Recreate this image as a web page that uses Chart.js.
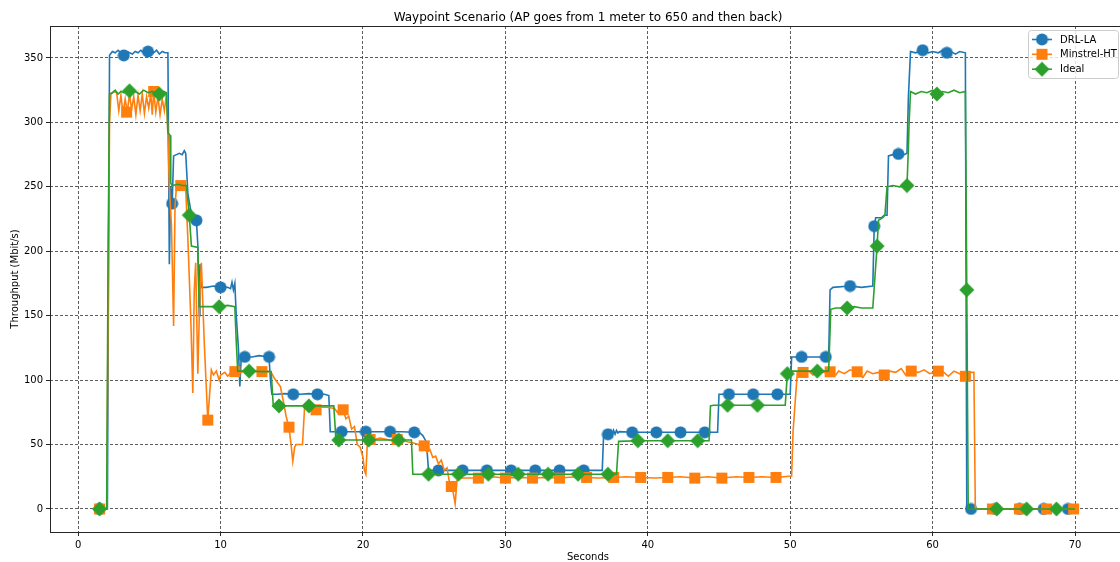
<!DOCTYPE html>
<html><head><meta charset="utf-8">
<script src="https://cdn.jsdelivr.net/npm/chart.js@4.4.1/dist/chart.umd.min.js"></script>
<style>html,body{margin:0;padding:0;background:#fff;overflow:hidden}#wrap{width:1120px;height:562px;overflow:hidden;position:relative}canvas{display:block}</style>
</head><body><div id="wrap"><canvas id="c" width="1130" height="562"></canvas></div>
<script>
const titleText = 'Waypoint Scenario (AP goes from 1 meter to 650 and then back)';
const xTitle = 'Seconds';
const yTitle = 'Throughput (Mbit/s)';
const seriesNames = ['DRL-LA', 'Minstrel-HT', 'Ideal'];
const xTicks = [0, 10, 20, 30, 40, 50, 60, 70];
const yTicks = [0, 50, 100, 150, 200, 250, 300, 350];

// [seconds, Mbit/s]
const drlLine = [[1.5,0],[2.05,0],[2.2,352],[2.4,355],[2.6,354],[2.8,356],[3.0,354],[3.2,352],[3.4,355],[3.6,354],[3.8,353],[4.0,355],[4.2,354],[4.4,356],[4.6,354],[4.9,355],[5.1,357],[5.3,354],[5.5,356],[5.7,353],[5.9,355],[6.1,354],[6.3,354],[6.4,190],[6.5,250],[6.6,237],[6.7,274],[6.9,275],[7.1,276],[7.3,275],[7.45,278],[7.55,276],[7.7,245],[7.9,232],[8.1,226],[8.3,224],[8.4,205],[8.5,150],[8.55,190],[8.65,172],[9.0,172],[9.5,173],[10.0,172],[10.5,172],[10.7,171],[10.8,176],[10.9,170],[11.0,175],[11.1,150],[11.25,125],[11.35,95],[11.45,118],[11.7,118],[12.2,118],[12.7,119],[13.4,118],[13.5,100],[13.6,89],[14.0,89],[14.5,89.5],[15.1,89],[15.6,89],[16.2,89.5],[16.8,89],[17.3,89],[17.6,88],[17.7,60],[18.0,60],[18.5,60],[19.5,60],[20.2,60],[21.0,60],[21.9,60],[22.7,60],[23.6,59.5],[24.0,59],[24.2,57],[24.4,53],[24.5,45],[24.6,30],[25.3,30],[27.0,30],[28.7,30],[30.4,30],[32.1,30],[33.8,30],[35.5,30],[36.8,30],[36.9,58],[37.2,58],[37.4,61],[37.5,57],[37.6,61],[37.7,58],[37.8,61],[37.9,59],[38.0,60],[38.9,59.5],[40.6,59.5],[42.3,59.5],[44.0,59.5],[44.9,59.5],[45.0,89],[45.7,89],[47.4,89],[49.1,89],[50.0,89],[50.1,118],[50.8,118],[52.5,118],[52.7,118],[52.8,170],[53.0,172],[54.2,173],[55.0,172],[55.8,173],[55.9,219.5],[56.0,226],[56.4,226],[56.6,228],[56.8,228],[56.9,274],[57.2,275],[57.6,275.5],[58.0,275],[58.2,276],[58.3,320],[58.45,355],[58.8,354],[59.3,356],[59.7,354],[60.0,355],[60.4,354],[60.7,356],[61.0,354],[61.3,355],[61.6,353],[61.9,355],[62.3,354],[62.4,0],[70,0]];
const minstrelLine = [[1.5,0],[2.0,0],[2.1,150],[2.2,300],[2.3,322],[2.5,324],[2.7,323],[2.85,309],[3.0,321],[3.15,307],[3.3,318],[3.45,308],[3.6,322],[3.75,310],[3.9,320],[4.05,306],[4.2,321],[4.35,309],[4.5,322],[4.65,307],[4.8,320],[4.95,311],[5.1,322],[5.2,306],[5.3,324],[5.45,308],[5.6,320],[5.75,306],[5.9,318],[6.05,309],[6.2,322],[6.3,290],[6.4,250],[6.55,220],[6.7,142],[6.8,235],[6.9,250],[7.0,252],[7.2,251],[7.4,250],[7.55,249],[7.7,210],[7.9,150],[8.05,90],[8.15,170],[8.25,191],[8.4,105],[8.55,170],[8.65,191],[8.85,130],[9.1,69],[9.35,108],[9.5,104],[9.7,107],[9.9,100],[10.0,104],[10.3,106],[10.5,103],[10.8,107],[11.0,106.6],[11.3,105],[11.6,107],[12.0,106],[12.5,107],[12.9,106.6],[13.3,107],[13.6,105],[13.8,101],[14.0,98],[14.2,95],[14.4,84],[14.6,72],[14.8,63.5],[14.95,50],[15.07,37],[15.2,48],[15.3,50],[15.75,50],[15.9,79],[16.2,80],[16.4,78],[16.7,77],[17.0,79],[17.5,79],[18.0,78],[18.2,75],[18.4,78],[18.6,77],[18.8,70],[19.0,72],[19.2,62],[19.4,64],[19.6,50],[19.8,48],[20.0,40],[20.1,30],[20.2,27],[20.3,50],[20.5,54],[20.8,54],[21.2,55],[21.7,54],[22.0,53],[22.4,54],[22.8,53],[23.2,52],[23.6,51],[23.9,50],[24.1,47],[24.3,49],[24.5,44],[24.7,46],[24.9,40],[25.1,41],[25.3,35],[25.5,38],[25.7,30],[25.9,32],[26.05,22],[26.2,17.5],[26.35,12],[26.47,4],[26.6,22],[26.8,24],[28.1,24],[29.0,25],[30.0,24],[31.0,24.5],[31.9,24],[33.0,24.5],[33.8,24],[35.0,25],[35.7,24.5],[36.5,24],[37.6,24.5],[38.5,25],[39.5,24.5],[40.5,24],[41.4,24.5],[42.3,25],[43.3,24],[44.2,25],[45.2,24],[46.2,25],[47.1,24.5],[48.0,25],[49.0,24.5],[50.1,25.5],[50.2,60],[50.5,106],[50.9,106],[51.3,107],[51.6,104],[52.0,107],[52.4,106],[52.8,106.5],[53.2,104],[53.4,107],[53.8,105],[54.2,108],[54.7,106.5],[55.1,102],[55.4,107],[55.8,105],[56.2,106],[56.6,104],[57.0,107],[57.4,106],[57.8,109],[58.1,104],[58.5,107],[59.0,106],[59.4,108],[59.8,105],[60.4,107],[60.8,106],[61.1,103],[61.5,107],[61.9,105],[62.3,103],[62.6,106],[62.9,106],[63.0,0],[70,0]];
const idealLine = [[1.5,0],[2.0,0],[2.1,200],[2.2,322],[2.4,323],[2.6,325],[2.8,322],[3.0,324],[3.2,323],[3.6,324.5],[3.8,323],[4.0,324],[4.3,322],[4.6,325],[4.9,323],[5.2,324],[5.5,322],[5.7,322],[6.0,324],[6.2,323],[6.3,292],[6.45,290],[6.5,253],[6.6,251],[7.0,252],[7.3,251],[7.6,251],[7.8,228],[7.95,204],[8.4,203],[8.5,157],[9.0,157],[9.9,157],[10.5,158],[11.0,157],[11.1,130],[11.2,107],[12.0,107],[13.0,106.6],[13.55,106.6],[13.7,80],[14.1,80],[16.2,80],[17.95,80],[18.1,53.5],[18.3,53.5],[20.4,53.5],[22.5,53.5],[23.4,53.5],[23.5,27],[24.6,27],[26.7,27],[28.8,27],[30.9,27],[33.0,27],[35.1,27],[37.2,27],[37.8,27],[37.95,52.5],[39.3,53],[41.4,53],[43.5,53],[44.3,53],[44.4,80],[44.6,80.5],[45.6,80.5],[47.7,80.5],[49.65,80.5],[49.8,105],[50.0,107],[51.9,107],[52.7,107],[52.85,155],[53.2,156],[54.0,156],[54.5,157],[55.0,156],[55.8,156],[55.95,180],[56.1,204],[56.2,224],[56.5,226],[56.65,228],[56.8,250],[57.2,251],[57.7,250],[58.2,251],[58.3,280],[58.35,300],[58.45,324],[58.8,322],[59.2,324],[59.6,323],[60.0,325],[60.3,322],[60.7,324],[61.1,323],[61.5,325],[61.9,323],[62.3,324],[62.4,170],[62.5,0],[70,0]];

const drlMarkT = [1.5,3.2,4.9,6.6,8.3,10.0,11.7,13.4,15.1,16.8,18.5,20.2,21.9,23.6,25.3,27.0,28.7,30.4,32.1,33.8,35.5,37.2,38.9,40.6,42.3,44.0,45.7,47.4,49.1,50.8,52.5,54.2,55.9,57.6,59.3,61.0,62.7,64.4,66.1,67.8,69.5];
const drlMarkV = [0,352,355,237,224,172,118,118,89,89,60,60,60,59.5,30,30,30,30,30,30,30,58,59.5,59.5,59.5,59.5,89,89,89,118,118,173,219.5,275.5,356,354,0,0,0,0,0];
const minMarkT = [1.5,3.4,5.3,7.2,9.1,11.0,12.9,14.8,16.7,18.6,20.5,22.4,24.3,26.2,28.1,30.0,31.9,33.8,35.7,37.6,39.5,41.4,43.3,45.2,47.1,49.0,50.9,52.8,54.7,56.6,58.5,60.4,62.3,64.2,66.1,68.0,69.9];
const minMarkV = [0,308,324,251,69,106.6,106.6,63.5,77,77,54,54,49,17.5,24,24,24,24,24.5,24.5,24.5,24.5,24,24,24.5,24.5,106,106.5,106.5,104,107,107,103,0,0,0,0];
const idealMarkT = [1.5,3.6,5.7,7.8,9.9,12.0,14.1,16.2,18.3,20.4,22.5,24.6,26.7,28.8,30.9,33.0,35.1,37.2,39.3,41.4,43.5,45.6,47.7,49.8,51.9,54.0,56.1,58.2,60.3,62.4,64.5,66.6,68.7];
const idealMarkV = [0,324.5,322,228,157,107,80,80,53.5,53.5,53.5,27,27,27,27,27,27,27,53,53,53,80.5,80.5,105,107,156,204,251,322,170,0,0,0];

const colors = ['#1f77b4', '#ff7f0e', '#2ca02c'];
const FONT = "'DejaVu Sans', sans-serif";

function markerCanvas(shape, color) {
  const c = document.createElement('canvas');
  const s = shape === 'diamond' ? 16 : 13;
  c.width = s; c.height = s;
  const g = c.getContext('2d');
  g.fillStyle = color;
  g.beginPath();
  if (shape === 'circle') { g.arc(s/2, s/2, 6, 0, Math.PI*2); }
  else if (shape === 'square') { g.rect(1, 1, 11, 11); }
  else { g.moveTo(s/2, 0.5); g.lineTo(s-0.5, s/2); g.lineTo(s/2, s-0.5); g.lineTo(0.5, s/2); g.closePath(); }
  g.fill();
  return c;
}
const markers = [markerCanvas('circle', colors[0]), markerCanvas('square', colors[1]), markerCanvas('diamond', colors[2])];

const pts = arr => arr.map(p => ({x: p[0], y: p[1]}));
const zip = (t, v) => t.map((x, i) => ({x, y: v[i]}));

function lineDs(i, data, order) {
  return { label: seriesNames[i], data: pts(data), borderColor: colors[i], borderWidth: 1.6, pointRadius: 0, tension: 0, fill: false, order };
}
function markDs(i, data, order) {
  return { label: seriesNames[i] + ' markers', data, showLine: false, pointStyle: markers[i], pointRadius: 6, borderColor: colors[i], backgroundColor: colors[i], order };
}

const overlay = {
  id: 'overlay',
  afterDatasetsDraw(chart) {
    const {ctx, chartArea: a} = chart;
    ctx.save();
    ctx.strokeStyle = '#262626'; ctx.lineWidth = 1;
    ctx.strokeRect(Math.round(a.left) + 0.5, Math.round(a.top) + 0.5, Math.round(a.right - a.left), Math.round(a.bottom - a.top));
    ctx.restore();
  },
  afterDraw(chart) {
    const {ctx, chartArea: a} = chart;
    ctx.save();
    ctx.fillStyle = '#000';
    ctx.textAlign = 'center'; ctx.textBaseline = 'alphabetic';
    ctx.font = '12px ' + FONT;
    ctx.fillText(titleText, 588, 20.5);
    ctx.font = '10px ' + FONT;
    ctx.fillText(xTitle, 588, 559.5);
    ctx.save();
    ctx.translate(18, (a.top + a.bottom) / 2);
    ctx.rotate(-Math.PI / 2);
    ctx.fillText(yTitle, 0, 0);
    ctx.restore();
    // legend
    const lx = 1028.5, ly = 30.5, lw = 90, lh = 48, r = 3;
    ctx.beginPath();
    ctx.moveTo(lx + r, ly); ctx.lineTo(lx + lw - r, ly); ctx.quadraticCurveTo(lx + lw, ly, lx + lw, ly + r);
    ctx.lineTo(lx + lw, ly + lh - r); ctx.quadraticCurveTo(lx + lw, ly + lh, lx + lw - r, ly + lh);
    ctx.lineTo(lx + r, ly + lh); ctx.quadraticCurveTo(lx, ly + lh, lx, ly + lh - r);
    ctx.lineTo(lx, ly + r); ctx.quadraticCurveTo(lx, ly, lx + r, ly); ctx.closePath();
    ctx.fillStyle = 'rgba(255,255,255,0.8)'; ctx.fill();
    ctx.strokeStyle = '#cccccc'; ctx.lineWidth = 1; ctx.stroke();
    const rows = [39.5, 54.3, 69.2];
    ctx.textAlign = 'left'; ctx.textBaseline = 'middle';
    for (let i = 0; i < 3; i++) {
      ctx.strokeStyle = colors[i]; ctx.lineWidth = 1.6;
      ctx.beginPath(); ctx.moveTo(1032, rows[i]); ctx.lineTo(1052, rows[i]); ctx.stroke();
      const m = markers[i];
      ctx.drawImage(m, 1042 - m.width / 2, rows[i] - m.height / 2);
      ctx.fillStyle = '#000';
      ctx.font = '10px ' + FONT;
      ctx.fillText(seriesNames[i], 1060, rows[i] + 0.5);
    }
    ctx.restore();
  }
};

new Chart(document.getElementById('c'), {
  type: 'line',
  data: {
    datasets: [
      lineDs(0, drlLine, 6), markDs(0, zip(drlMarkT, drlMarkV), 5),
      lineDs(1, minstrelLine, 4), markDs(1, zip(minMarkT, minMarkV), 3),
      lineDs(2, idealLine, 2), markDs(2, zip(idealMarkT, idealMarkV), 1)
    ]
  },
  options: {
    responsive: false, animation: false, devicePixelRatio: 1,
    layout: { padding: { left: 0, right: 0, top: 26, bottom: 0 } },
    plugins: { legend: { display: false }, tooltip: { enabled: false }, title: { display: false } },
    scales: {
      x: {
        type: 'linear', min: -1.98, max: 73.37,
        afterBuildTicks: s => { s.ticks = xTicks.map(v => ({value: v})); },
        afterFit: s => { s.height = 30; },
        ticks: { autoSkip: false, maxRotation: 0, padding: 3, color: '#000', font: { family: FONT, size: 10 } },
        grid: { color: '#333', lineWidth: 0.8, tickLength: 4, tickColor: '#262626', tickWidth: 1, tickBorderDash: [] },
        border: { display: false, dash: [3, 2] }
      },
      y: {
        type: 'linear', min: -17.85, max: 374.8,
        afterBuildTicks: s => { s.ticks = yTicks.map(v => ({value: v})); },
        afterFit: s => { s.width = 50; },
        ticks: { autoSkip: false, padding: 3, color: '#000', font: { family: FONT, size: 10 } },
        grid: { color: '#333', lineWidth: 0.8, tickLength: 4, tickColor: '#262626', tickWidth: 1, tickBorderDash: [] },
        border: { display: false, dash: [3, 2] }
      }
    }
  },
  plugins: [overlay]
});
</script>
</body></html>
